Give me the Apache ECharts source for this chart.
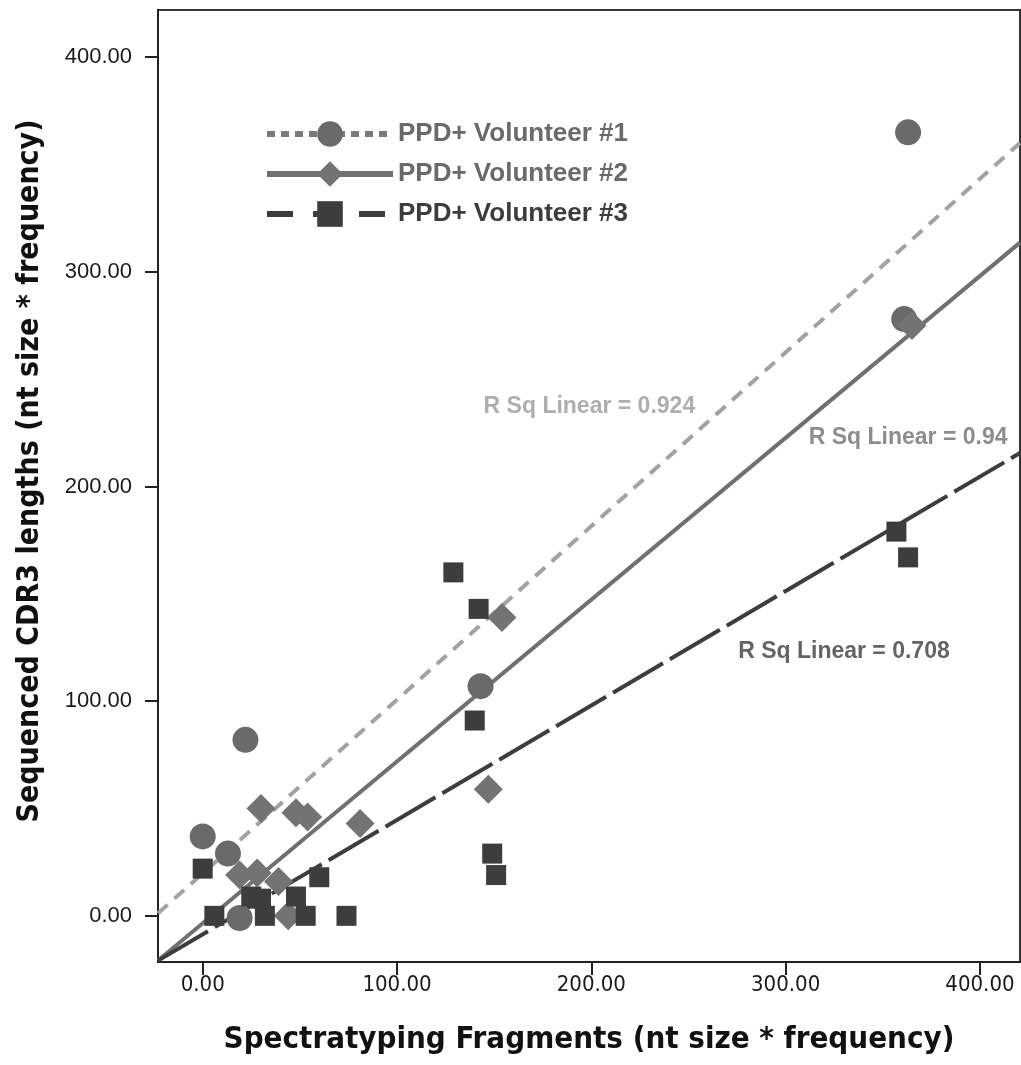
<!DOCTYPE html>
<html>
<head>
    <meta charset="utf-8">
    <title>CDR3 vs spectratyping</title>
    <script src="https://cdn.jsdelivr.net/npm/echarts@6/dist/echarts.min.js"></script>
    <style>
        html, body { margin: 0; padding: 0; background: #fff; }
    </style>
</head>
<body>
<div id="main" style="width: 1021px; height: 1065px;"></div>
<script type="text/javascript">
// series names
var names = ['PPD+ Volunteer #1', 'PPD+ Volunteer #2', 'PPD+ Volunteer #3'];

// [spectratyping, sequenced] pairs
var vol1 = [[363, 365], [361, 278], [143, 107], [22, 82], [0, 37], [13, 29], [19, -1]];
var vol2 = [[365, 275], [154, 139], [147, 59], [30, 50], [48, 48], [54, 46], [81, 43],
            [19, 19], [28, 20], [39, 16], [44, 0]];
var vol3 = [[363, 167], [357, 179], [129, 160], [142, 143], [140, 91], [149, 29], [151, 19],
            [60, 18], [74, 0], [0, 22], [6, 0], [25, 9], [30, 8], [32, 0], [48, 9], [53, 0]];

// fit lines (slope, intercept) and their R squared
var slopes = [0.809, 0.754, 0.533];
var intercepts = [19.8, -3.5, -8.6];
var rsq = ['0.924', '0.94', '0.708'];
// where each R Sq label sits (data units)
var rsqAt = [[199, 237], [363, 223], [330, 123]];

var xMin = -23, xMax = 420.6, yMin = -21.5, yMax = 422;

var pointColors = ['#6a6a6a', '#737373', '#3d3d3d'];
var lineColors = ['#a2a2a2', '#707070', '#3d3d3d'];
var symbols = ['circle', 'diamond', 'rect'];
var symbolSizes = [26, 29, 20];
var dashes = [[13, 9], 'solid', [58, 8]];
var legendDashes = [[8, 6], 'solid', [26, 20]];
var labelColors = ['#9a9a9a', '#707070', '#3d3d3d'];

function fitLine(i) {
    return [[xMin, intercepts[i] + slopes[i] * xMin], [xMax, intercepts[i] + slopes[i] * xMax]];
}

var myChart = echarts.init(document.getElementById('main'));
var pts = [vol1, vol2, vol3];
var series = [];
for (var i = 0; i < 3; i++) {
    series.push({
        name: names[i],
        type: 'line',
        data: fitLine(i),
        showSymbol: false,
        symbol: symbols[i],
        symbolSize: symbolSizes[i],
        itemStyle: { color: pointColors[i] },
        lineStyle: { color: lineColors[i], width: 4, type: dashes[i] },
        z: 2,
        silent: true
    });
}
for (var j = 0; j < 3; j++) {
    series.push({
        name: names[j],
        type: 'scatter',
        data: pts[j],
        symbol: symbols[j],
        symbolSize: symbolSizes[j],
        itemStyle: { color: pointColors[j], opacity: 1 },
        z: 3
    });
}
// R Sq labels
for (var k = 0; k < 3; k++) {
    series.push({
        type: 'scatter',
        data: [rsqAt[k]],
        symbolSize: 0,
        silent: true,
        label: {
            show: true,
            position: 'inside',
            formatter: 'R Sq Linear = ' + rsq[k],
            color: labelColors[k],
            fontFamily: 'Liberation Sans',
            fontWeight: 'bold',
            fontSize: 23
        },
        z: 4
    });
}

var legendData = [];
for (var m = 0; m < 3; m++) {
    legendData.push({
        name: names[m],
        textStyle: { color: m === 2 ? '#3d3d3d' : '#6a6a6a' },
        lineStyle: { color: m === 0 ? '#7a7a7a' : lineColors[m], width: 6, type: legendDashes[m] }
    });
}

var option = {
    animation: false,
    backgroundColor: '#fff',
    grid: {
        left: 158, right: 1, top: 10, bottom: 103,
        show: true, borderColor: '#333', borderWidth: 2
    },
    legend: {
        orient: 'vertical',
        left: 259,
        top: 113,
        itemWidth: 126,
        itemHeight: 32,
        itemGap: 8,
        textStyle: { fontFamily: 'Liberation Sans', fontWeight: 'bold', fontSize: 26, lineHeight: 32 },
        data: legendData
    },
    xAxis: {
        type: 'value',
        min: xMin, max: xMax,
        splitLine: { show: false },
        axisLine: { onZero: false, lineStyle: { color: '#222', width: 2 } },
        axisTick: { length: 13, lineStyle: { color: '#222', width: 2 } },
        axisLabel: {
            showMinLabel: false, showMaxLabel: false,
            margin: 12,
            color: '#1a1a1a',
            fontFamily: 'Liberation Sans Narrow, DejaVu Sans Condensed, sans-serif',
            fontSize: 22,
            formatter: function (v) { return v % 100 === 0 ? v.toFixed(2) : ''; }
        },
        name: 'Spectratyping Fragments (nt size * frequency)',
        nameLocation: 'middle',
        nameGap: 62,
        nameTextStyle: {
            color: '#111',
            fontFamily: 'Liberation Sans Narrow, DejaVu Sans Condensed, sans-serif',
            fontWeight: 'bold',
            fontSize: 31
        }
    },
    yAxis: {
        type: 'value',
        min: yMin, max: yMax,
        splitLine: { show: false },
        axisLine: { onZero: false, lineStyle: { color: '#222', width: 2 } },
        axisTick: { length: 13, lineStyle: { color: '#222', width: 2 } },
        axisLabel: {
            showMinLabel: false, showMaxLabel: false,
            margin: 26,
            color: '#1a1a1a',
            fontFamily: 'Liberation Sans',
            fontSize: 22,
            formatter: function (v) { return v % 100 === 0 ? v.toFixed(2) : ''; }
        },
        name: 'Sequenced CDR3 lengths (nt size * frequency)',
        nameLocation: 'middle',
        nameRotate: 90,
        nameGap: 113,
        nameTextStyle: {
            color: '#111',
            fontFamily: 'Liberation Sans Narrow, DejaVu Sans Condensed, sans-serif',
            fontWeight: 'bold',
            fontSize: 30,
            padding: [0, 0, 0, 30]
        }
    },
    series: series
};
myChart.setOption(option);
</script>
</body>
</html>
